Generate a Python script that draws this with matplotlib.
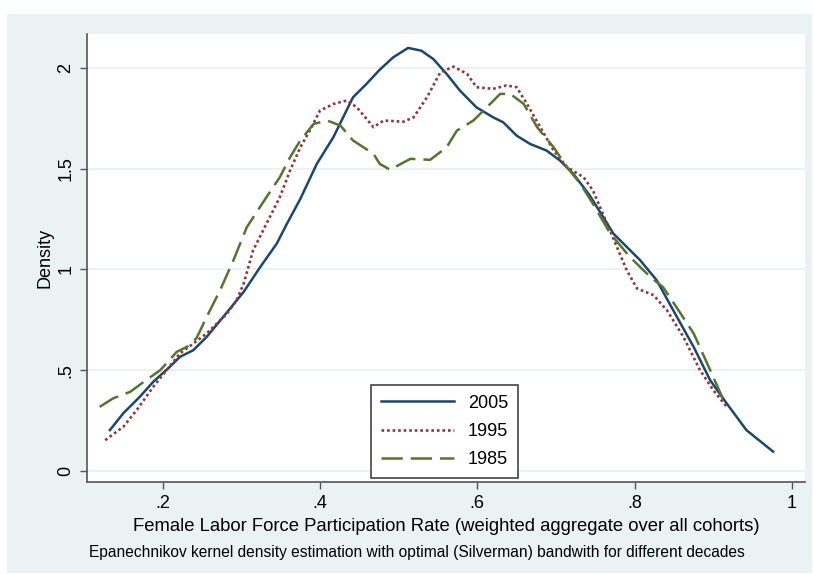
import numpy as np
import matplotlib.pyplot as plt
from matplotlib.patches import Rectangle

# density estimates
x_2005 = [0.133, 0.150, 0.171, 0.188, 0.209, 0.222, 0.239, 0.256, 0.277, 0.303,
          0.324, 0.345, 0.358, 0.375, 0.396, 0.417, 0.442, 0.459, 0.476, 0.493,
          0.512, 0.529, 0.544, 0.561, 0.578, 0.599, 0.620, 0.633, 0.650, 0.667,
          0.688, 0.705, 0.722, 0.743, 0.773, 0.807, 0.828, 0.849, 0.875, 0.896,
          0.917, 0.942, 0.976]
y_2005 = [0.203, 0.286, 0.368, 0.442, 0.516, 0.566, 0.599, 0.665, 0.764, 0.888,
          1.011, 1.127, 1.226, 1.349, 1.523, 1.655, 1.853, 1.919, 1.990, 2.051,
          2.098, 2.084, 2.043, 1.969, 1.886, 1.803, 1.754, 1.729, 1.663, 1.622,
          1.589, 1.540, 1.474, 1.366, 1.177, 1.045, 0.946, 0.797, 0.615, 0.450,
          0.335, 0.203, 0.096]

x_1995 = [0.127, 0.150, 0.167, 0.188, 0.205, 0.222, 0.239, 0.256, 0.282, 0.294,
          0.303, 0.315, 0.332, 0.349, 0.362, 0.375, 0.387, 0.400, 0.417, 0.434,
          0.447, 0.468, 0.481, 0.506, 0.519, 0.536, 0.553, 0.570, 0.587, 0.599,
          0.620, 0.637, 0.650, 0.663, 0.680, 0.697, 0.714, 0.735, 0.747, 0.765,
          0.790, 0.803, 0.824, 0.841, 0.862, 0.883, 0.900, 0.917]
y_1995 = [0.153, 0.219, 0.302, 0.417, 0.500, 0.583, 0.632, 0.682, 0.781, 0.847,
          0.929, 1.094, 1.226, 1.358, 1.490, 1.605, 1.688, 1.787, 1.820, 1.837,
          1.803, 1.705, 1.738, 1.732, 1.754, 1.853, 1.977, 2.005, 1.969, 1.903,
          1.895, 1.912, 1.903, 1.821, 1.705, 1.589, 1.507, 1.457, 1.391, 1.226,
          0.995, 0.905, 0.872, 0.797, 0.665, 0.500, 0.401, 0.318]

x_1985 = [0.120, 0.137, 0.159, 0.176, 0.197, 0.218, 0.231, 0.243, 0.256, 0.273,
          0.290, 0.307, 0.332, 0.349, 0.362, 0.375, 0.392, 0.409, 0.426, 0.442,
          0.468, 0.476, 0.489, 0.515, 0.540, 0.561, 0.574, 0.595, 0.612, 0.629,
          0.642, 0.659, 0.676, 0.697, 0.714, 0.731, 0.747, 0.769, 0.794, 0.820,
          0.836, 0.853, 0.875, 0.896, 0.913]
y_1985 = [0.318, 0.360, 0.393, 0.442, 0.500, 0.591, 0.616, 0.658, 0.764, 0.896,
          1.045, 1.209, 1.358, 1.457, 1.556, 1.639, 1.721, 1.738, 1.713, 1.639,
          1.573, 1.523, 1.494, 1.548, 1.543, 1.605, 1.688, 1.738, 1.803, 1.870,
          1.870, 1.820, 1.705, 1.605, 1.507, 1.424, 1.325, 1.177, 1.061, 0.962,
          0.912, 0.813, 0.682, 0.500, 0.351]

x_ticks = [0.2, 0.4, 0.6, 0.8, 1.0]
x_ticklabels = [".2", ".4", ".6", ".8", "1"]
y_ticks = [0, 0.5, 1, 1.5, 2]
y_ticklabels = ["0", ".5", "1", "1.5", "2"]

BG = "#eaf2f3"

plt.rcParams["font.family"] = ["Liberation Sans", "DejaVu Sans"]

fig = plt.figure(figsize=(8.14, 5.74), dpi=100, facecolor="white")
fig.patches.append(Rectangle((7 / 814, 1 / 574), 805 / 814, 559 / 574,
                             transform=fig.transFigure, facecolor=BG,
                             edgecolor="none", zorder=-10))

ax = fig.add_axes([87 / 814, 1 - 482 / 574, 718 / 814, 448 / 574])
ax.set_facecolor("white")

ax.plot(x_2005, y_2005, color="#1a476f", lw=1.8, label="2005")
ax.plot(x_1995, y_1995, color="#90353b", lw=1.9, linestyle=(0, (1.0, 1.1)),
        label="1995")
ax.plot(x_1985, y_1985, color="#55752f", lw=1.8, linestyle=(0, (8.5, 3.2)),
        label="1985")

ax.set_xlim(0.1039, 1.0165)
ax.set_ylim(-0.0545, 2.167)

ax.set_xticks(x_ticks)
ax.set_xticklabels(x_ticklabels)
ax.set_yticks(y_ticks)
ax.set_yticklabels(y_ticklabels, rotation=90, va="center")
ax.tick_params(axis="both", labelsize=13, length=5, width=1, color="#555555",
               pad=4)
ax.grid(axis="y", color=BG, lw=1.5)
ax.set_axisbelow(True)

for side in ["top", "right"]:
    ax.spines[side].set_visible(False)
for side in ["left", "bottom"]:
    ax.spines[side].set_color("#555555")
    ax.spines[side].set_linewidth(1.2)

ax.set_xlabel("Female Labor Force Participation Rate (weighted aggregate over all cohorts)",
              fontsize=13.3, labelpad=5)
ax.set_ylabel("Density", fontsize=13, labelpad=3)

leg = ax.legend(loc="lower center", bbox_to_anchor=(0.498, 0.009), fontsize=13,
                frameon=True, fancybox=False, framealpha=1, edgecolor="#444444",
                handlelength=4.05, handletextpad=0.75, labelspacing=0.62,
                borderpad=0.55, borderaxespad=0)
leg.get_frame().set_linewidth(1.2)

fig.text(89 / 814, 1 - 553 / 574,
         "Epanechnikov kernel density estimation with optimal (Silverman) bandwith for different decades",
         fontsize=11.2, ha="left", va="center")

fig.savefig("out.png", dpi=100, facecolor="white")
